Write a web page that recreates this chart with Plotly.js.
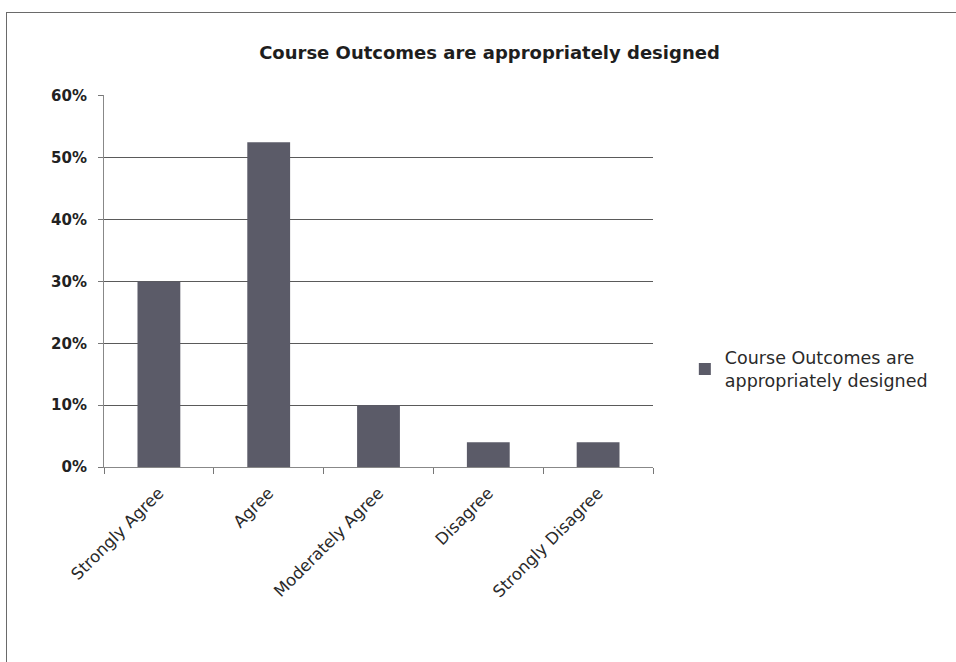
<!DOCTYPE html>
<html>
<head>
<meta charset="utf-8">
<script src="https://cdn.plot.ly/plotly-3.0.1.min.js"></script>
<style>
html,body{margin:0;padding:0;background:#fff;overflow:hidden;}
#wrap{position:absolute;left:0;top:0;width:956px;height:662px;overflow:hidden;}
#frame{position:absolute;left:6px;top:12px;width:960px;height:670px;border:1.5px solid #6a6a6a;box-sizing:border-box;pointer-events:none;}
#chart{position:absolute;left:0;top:0;width:956px;height:662px;}
</style>
</head>
<body>
<div id="wrap"><div id="chart"></div><div id="frame"></div></div>
<script>
const categories = ["Strongly Agree", "Agree", "Moderately Agree", "Disagree", "Strongly Disagree"];
const values = [0.30, 0.525, 0.10, 0.04, 0.04];
const seriesName = "Course Outcomes are<br>appropriately designed";
const chartTitle = "Course Outcomes are appropriately designed";
const yTicks = [0, 0.1, 0.2, 0.3, 0.4, 0.5, 0.6];
const yTickLabels = ["0%", "10%", "20%", "30%", "40%", "50%", "60%"];

const FONT = "'DejaVu Sans', Verdana, sans-serif";

const trace = {
  type: "bar",
  x: categories,
  y: values,
  name: seriesName,
  width: 0.39,
  marker: {color: "#5b5b68", line: {width: 0}},
  showlegend: true,
  hoverinfo: "x+y"
};

const layout = {
  width: 956, height: 662,
  margin: {l: 104, r: 303, t: 95, b: 195},
  paper_bgcolor: "#ffffff",
  plot_bgcolor: "#ffffff",
  font: {family: FONT, color: "#2a2a2a"},
  title: {text: "<b>" + chartTitle + "</b>", x: 0.512, xanchor: "center", y: 0.921, yanchor: "middle",
          font: {size: 18, color: "#1e1e1e", family: FONT}},
  showlegend: true,
  legend: {x: 1.058, xanchor: "left", y: 0.263, yanchor: "middle",
           font: {size: 17.5, color: "#2a2a2a", family: FONT}, itemwidth: 30, tracegroupgap: 0,
           bgcolor: "rgba(0,0,0,0)"},
  xaxis: {
    type: "category",
    tickangle: -45,
    tickson: "boundaries",
    ticks: "outside", ticklen: 6, tickcolor: "#777",
    ticklabelstandoff: 9,
    showline: true, linecolor: "#888", linewidth: 1,
    showgrid: false,
    tickfont: {size: 16.5, color: "#2a2a2a", family: FONT},
    fixedrange: true
  },
  yaxis: {
    range: [0, 0.6015],
    tickvals: yTicks,
    ticktext: yTickLabels,
    ticks: "outside", ticklen: 5, tickcolor: "#777",
    ticklabelstandoff: 8,
    showline: true, linecolor: "#888", linewidth: 1,
    showgrid: true, gridcolor: "#5a5a5a", gridwidth: 1.3,
    zeroline: false,
    tickfont: {size: 15, color: "#222", family: FONT, weight: "bold"},
    fixedrange: true
  }
};

Plotly.newPlot("chart", [trace], layout, {displayModeBar: false, staticPlot: true});
</script>
</body>
</html>
